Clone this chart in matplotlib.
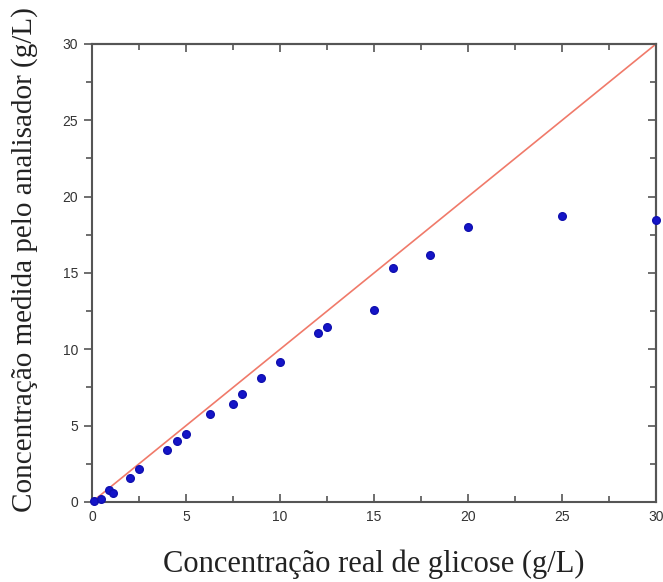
import matplotlib
matplotlib.use("Agg")
import matplotlib.pyplot as plt
from matplotlib.ticker import MultipleLocator

# glucose: real concentration vs analyser reading (g/L)
real = [0.1, 0.5, 0.9, 1.1, 2.0, 2.5, 4.0, 4.5, 5.0, 6.3, 7.5, 8.0, 9.0, 10.0,
        12.0, 12.5, 15.0, 16.0, 18.0, 20.0, 25.0, 30.0]
measured = [0.07, 0.2, 0.8, 0.6, 1.6, 2.15, 3.4, 4.0, 4.45, 5.75, 6.4, 7.05, 8.1, 9.2,
            11.1, 11.45, 12.6, 15.3, 16.15, 18.0, 18.75, 18.5]
ideal = [0, 30]

fig = plt.figure(figsize=(6.63, 5.82), dpi=100)
ax = fig.add_axes([0.1388, 0.1375, 0.8506, 0.7869])

ax.plot(ideal, ideal, color="#f07a6a", lw=1.2, zorder=2)
ax.plot(real, measured, "o", color="#1414c8", ms=5.5, mec="#1010b0", zorder=3,
        clip_on=False)

ax.set_xlim(0, 30)
ax.set_ylim(0, 30)
for a in (ax.xaxis, ax.yaxis):
    a.set_major_locator(MultipleLocator(5))
    a.set_minor_locator(MultipleLocator(2.5))

edge = "#555555"
for s in ax.spines.values():
    s.set_color(edge)
    s.set_linewidth(1.5)

ax.tick_params(axis="x", which="both", direction="in", colors=edge,
               labelcolor="#333333", labelsize=10, pad=6)
ax.tick_params(axis="y", which="both", direction="out", colors=edge,
               labelcolor="#333333", labelsize=10, pad=4)
ax.tick_params(which="major", length=6, width=1.2)
ax.tick_params(which="minor", length=4, width=1.2)
for lab in ax.get_xticklabels() + ax.get_yticklabels():
    lab.set_family(["Liberation Sans", "DejaVu Sans"])

top = ax.secondary_xaxis("top")
right = ax.secondary_yaxis("right")
for sec, axis in ((top, top.xaxis), (right, right.yaxis)):
    axis.set_major_locator(MultipleLocator(5))
    axis.set_minor_locator(MultipleLocator(2.5))
    sec.tick_params(which="both", direction="in", colors=edge,
                    labelleft=False, labelright=False, labeltop=False,
                    labelbottom=False)
    sec.tick_params(which="major", length=6, width=1.2)
    sec.tick_params(which="minor", length=4, width=1.2)
    for s in sec.spines.values():
        s.set_color(edge)
        s.set_linewidth(1.5)

serif = ["Liberation Serif", "DejaVu Serif"]
ax.set_xlabel("Concentração real de glicose (g/L)", family=serif, fontsize=22,
              color="#222222", labelpad=18)
ax.set_ylabel("Concentração medida pelo analisador (g/L)", family=serif,
              fontsize=21, color="#222222")
ax.yaxis.set_label_coords(-0.095, 0.53)

fig.savefig("out.png", dpi=100)
